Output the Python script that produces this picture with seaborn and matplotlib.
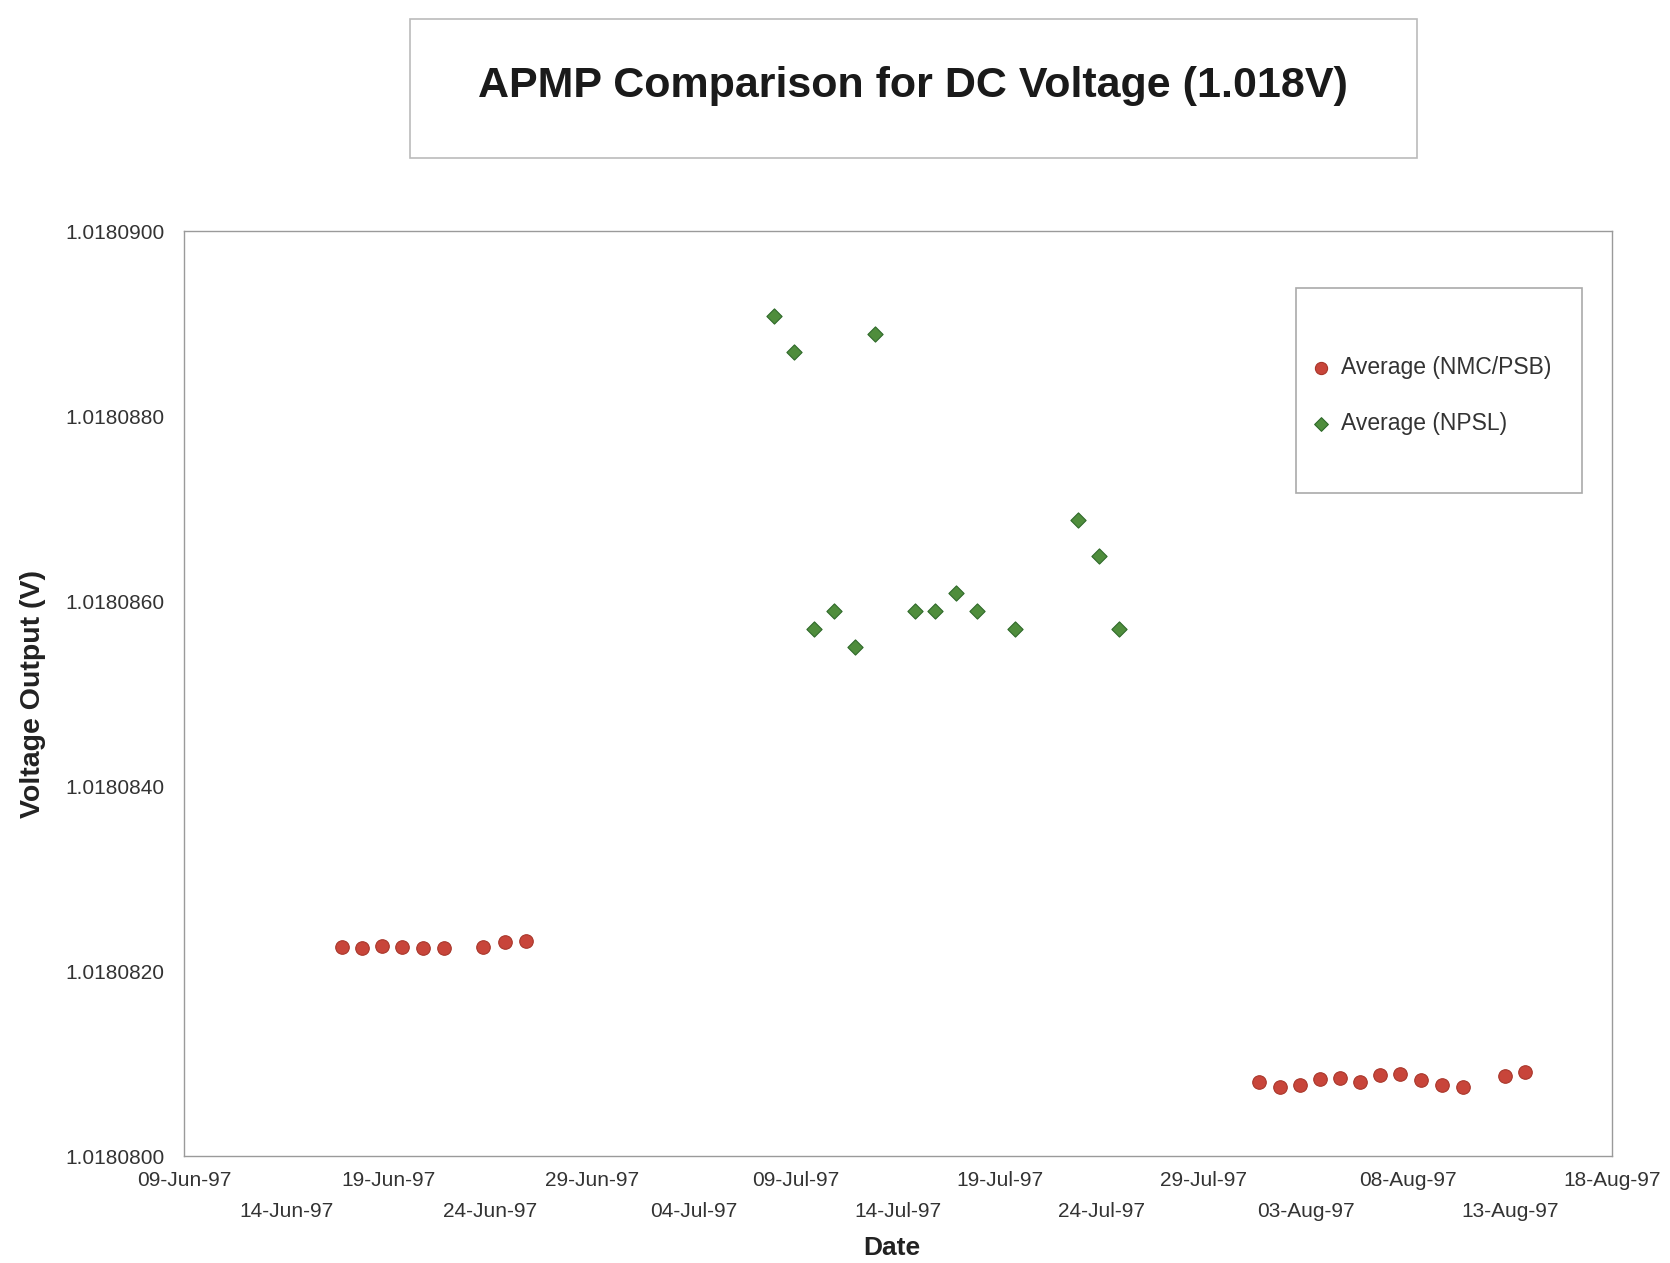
import pandas as pd
import matplotlib
matplotlib.use("Agg")
import matplotlib.pyplot as plt
import matplotlib.dates as mdates
from matplotlib.patches import Rectangle
import seaborn as sns

# Average (NMC/PSB)
nmc_dates = ["1997-06-16 18:00", "1997-06-17 17:00", "1997-06-18 16:30", "1997-06-19 17:00",
             "1997-06-20 17:30", "1997-06-21 18:00", "1997-06-23 16:20", "1997-06-24 17:30",
             "1997-06-25 18:00",
             "1997-07-31 17:00", "1997-08-01 17:00", "1997-08-02 16:30", "1997-08-03 16:00",
             "1997-08-04 15:40", "1997-08-05 15:10", "1997-08-06 15:40", "1997-08-07 15:10",
             "1997-08-08 15:50", "1997-08-09 16:30", "1997-08-10 16:50", "1997-08-12 18:00",
             "1997-08-13 17:30"]
nmc_volts = [1.01808226, 1.01808225, 1.01808227, 1.01808226, 1.01808225, 1.01808225,
             1.01808226, 1.01808231, 1.01808232,
             1.01808080, 1.01808075, 1.01808077, 1.01808083, 1.01808084, 1.01808080,
             1.01808088, 1.01808089, 1.01808082, 1.01808077, 1.01808075, 1.01808087,
             1.01808091]

# Average (NPSL)
npsl_dates = ["1997-07-07 22:00", "1997-07-08 21:30", "1997-07-09 21:00", "1997-07-10 20:40",
              "1997-07-11 21:20", "1997-07-12 21:00", "1997-07-14 19:40", "1997-07-15 19:40",
              "1997-07-16 20:10", "1997-07-17 20:25", "1997-07-19 18:00", "1997-07-22 20:10",
              "1997-07-23 20:10", "1997-07-24 19:40"]
npsl_volts = [1.01808908, 1.01808869, 1.01808570, 1.01808589, 1.01808550, 1.01808889,
              1.01808589, 1.01808589, 1.01808609, 1.01808589, 1.01808570, 1.01808688,
              1.01808649, 1.01808570]

y_ticks = [1.0180800, 1.0180820, 1.0180840, 1.0180860, 1.0180880, 1.0180900]
x_start, x_end = "1997-06-09", "1997-08-18"

nmc = pd.DataFrame({"date": pd.to_datetime(nmc_dates), "volts": nmc_volts})
npsl = pd.DataFrame({"date": pd.to_datetime(npsl_dates), "volts": npsl_volts})

sns.set_style("white")
plt.rcParams["font.family"] = ["Liberation Sans", "DejaVu Sans"]

fig = plt.figure(figsize=(16.7, 12.63), dpi=100)
ax = fig.add_axes([0.1102, 0.0847, 0.855, 0.7324])

sns.scatterplot(data=nmc, x="date", y="volts", ax=ax, marker="o", s=95,
                color="#c8453a", edgecolor="#a8362a", linewidth=0.8,
                label="Average (NMC/PSB)")
sns.scatterplot(data=npsl, x="date", y="volts", ax=ax, marker="D", s=60,
                color="#4f8d3c", edgecolor="#2f6a2a", linewidth=0.8,
                label="Average (NPSL)")

ax.set_xlim(pd.Timestamp(x_start), pd.Timestamp(x_end))
ax.set_ylim(y_ticks[0], y_ticks[-1])
ax.set_yticks(y_ticks)
ax.yaxis.set_major_formatter(matplotlib.ticker.FormatStrFormatter("%.7f"))

# staggered date labels: every other tick on a second row
major = pd.date_range(x_start, x_end, freq="10D")
minor = pd.date_range("1997-06-14", x_end, freq="10D")
ax.xaxis.set_major_locator(matplotlib.ticker.FixedLocator(mdates.date2num(major)))
ax.xaxis.set_minor_locator(matplotlib.ticker.FixedLocator(mdates.date2num(minor)))
ax.xaxis.set_major_formatter(mdates.DateFormatter("%d-%b-%y"))
ax.xaxis.set_minor_formatter(mdates.DateFormatter("%d-%b-%y"))

ax.tick_params(axis="x", which="major", direction="in", length=9, width=0.8,
               color="#999999", pad=11, labelsize=15, labelcolor="#333333")
ax.tick_params(axis="x", which="minor", direction="in", length=9, width=0.8,
               color="#999999", pad=33, labelsize=15, labelcolor="#333333")
ax.tick_params(axis="y", direction="in", length=6, width=0.8, color="#999999",
               pad=14, labelsize=15, labelcolor="#333333")

for sp in ax.spines.values():
    sp.set_color("#9a9a9a")
    sp.set_linewidth(1.0)

ax.set_xlabel("Date", fontsize=19, fontweight="bold", color="#222222")
ax.set_ylabel("Voltage Output (V)", fontsize=20.5, fontweight="bold", color="#222222")
ax.xaxis.set_label_coords(0.496, -0.086)
ax.yaxis.set_label_coords(-0.097, 0.5)

# title box
fig.patches.append(Rectangle((0.2455, 0.8749), 0.603, 0.110, transform=fig.transFigure,
                             facecolor="none", edgecolor="#bbbbbb", linewidth=1.2))
fig.text(0.5467, 0.932, "APMP Comparison for DC Voltage (1.018V)", fontsize=31,
         fontweight="bold", color="#1a1a1a", ha="center", va="center")

# legend box
fig.patches.append(Rectangle((0.776, 0.6097), 0.1713, 0.1623, transform=fig.transFigure,
                             facecolor="none", edgecolor="#aaaaaa", linewidth=1.2))
leg = ax.legend(loc="upper left", bbox_to_anchor=(0.784, 0.7185), bbox_transform=fig.transFigure,
                frameon=False, fontsize=16.5, handlelength=1.0, handletextpad=0.4,
                labelspacing=1.45, borderpad=0, borderaxespad=0, markerscale=0.9)
for t in leg.get_texts():
    t.set_color("#333333")

fig.savefig("out.png", dpi=100, facecolor="white")
